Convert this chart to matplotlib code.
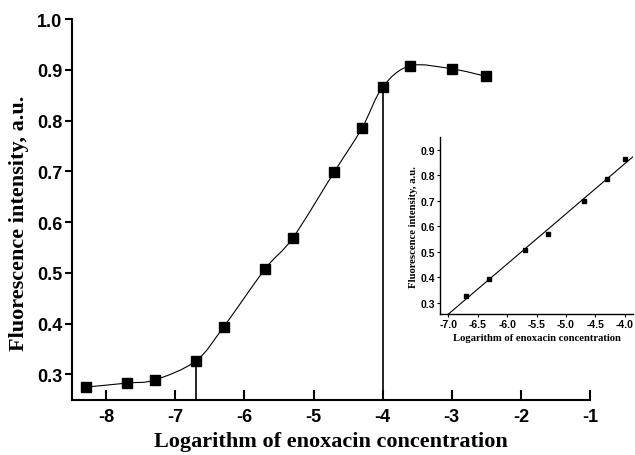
import numpy as np
import matplotlib
matplotlib.use('Agg')
import matplotlib.pyplot as plt
from matplotlib.path import Path
from matplotlib.patches import PathPatch

# data
log_conc = [-8.3, -7.7, -7.3, -6.7, -6.3, -5.7, -5.3, -4.7, -4.3, -4.0, -3.6, -3.0, -2.5]
intensity = [0.275, 0.283, 0.289, 0.327, 0.394, 0.508, 0.569, 0.699, 0.785, 0.866, 0.908, 0.902, 0.887]

# linear range shown in the inset
lin_conc = [-6.7, -6.3, -5.7, -5.3, -4.7, -4.3, -4.0]
lin_int = [0.327, 0.394, 0.508, 0.569, 0.699, 0.785, 0.866]

# limits of the linear range (drop lines)
range_marks = [-6.7, -4.0]
range_vals = [0.327, 0.866]

main_xticks = [-8, -7, -6, -5, -4, -3, -2, -1]
main_yticks = [0.3, 0.4, 0.5, 0.6, 0.7, 0.8, 0.9, 1.0]
inset_xticks = [-7.0, -6.5, -6.0, -5.5, -5.0, -4.5, -4.0]
inset_yticks = [0.3, 0.4, 0.5, 0.6, 0.7, 0.8, 0.9]

sans = 'Liberation Sans'
serif = 'Liberation Serif'


def smooth_path(xs, ys):
    # catmull-rom through the points, drawn as bezier segments
    pts = np.column_stack([xs, ys])
    pad = np.vstack([pts[0], pts, pts[-1]])
    verts = [pts[0]]
    codes = [Path.MOVETO]
    for i in range(1, len(pad) - 2):
        p0, p1, p2, p3 = pad[i - 1], pad[i], pad[i + 1], pad[i + 2]
        verts += [p1 + (p2 - p0) / 6.0, p2 - (p3 - p1) / 6.0, p2]
        codes += [Path.CURVE4] * 3
    return Path(verts, codes)


fig = plt.figure(figsize=(6.35, 4.56), dpi=100)
ax = fig.add_axes([0.113, 0.121, 0.816, 0.835])

ax.add_patch(PathPatch(smooth_path(log_conc, intensity), fc='none', ec='black', lw=0.8))
ax.plot(log_conc, intensity, 's', color='black', ms=6.5, mec='black')
ax.vlines(range_marks, 0.25, range_vals, color='black', lw=1.2)

ax.set_xlim(-8.5, -1)
ax.set_ylim(0.25, 1.0)
ax.set_xticks(main_xticks)
ax.set_yticks(main_yticks)
ax.set_xticklabels([str(t) for t in main_xticks], fontfamily=sans, fontweight='bold', fontsize=13)
ax.set_yticklabels(['%.1f' % t for t in main_yticks], fontfamily=sans, fontweight='bold', fontsize=13)
ax.tick_params(axis='x', direction='in', length=7, width=1.5, pad=6)
ax.tick_params(axis='y', direction='out', length=5, width=1.5, pad=2)
for s in ['top', 'right']:
    ax.spines[s].set_visible(False)
for s in ['left', 'bottom']:
    ax.spines[s].set_linewidth(1.5)
ax.set_xlabel('Logarithm of enoxacin concentration', fontfamily=serif, fontweight='bold', fontsize=16)
ax.set_ylabel('Fluorescence intensity, a.u.', fontfamily=serif, fontweight='bold', fontsize=16)
ax.xaxis.set_label_coords(0.5, -0.082)
ax.yaxis.set_label_coords(-0.082, 0.465)

# inset: linear part with least-squares line
ins = fig.add_axes([0.693, 0.309, 0.304, 0.388])
k, b = np.polyfit(lin_conc, lin_int, 1)
ix = np.array([-7.14, -3.86])
ins.plot(ix, k * ix + b, color='black', lw=0.8)
ins.plot(lin_conc, lin_int, 's', color='black', ms=3)
ins.set_xlim(-7.14, -3.86)
ins.set_ylim(0.255, 0.95)
ins.set_xticks(inset_xticks)
ins.set_yticks(inset_yticks)
ins.set_xticklabels(['%.1f' % t for t in inset_xticks], fontfamily=sans, fontweight='bold', fontsize=7.5)
ins.set_yticklabels(['%.1f' % t for t in inset_yticks], fontfamily=sans, fontweight='bold', fontsize=7.5)
ins.tick_params(direction='out', length=2, width=0.8, pad=1.5)
for s in ['top', 'right']:
    ins.spines[s].set_visible(False)
for s in ['left', 'bottom']:
    ins.spines[s].set_linewidth(1.0)
ins.patch.set_alpha(0)
ins.set_xlabel('Logarithm of enoxacin concentration', fontfamily=serif, fontweight='bold', fontsize=7.7, labelpad=3)
ins.set_ylabel('Fluorescence intensity, a.u.', fontfamily=serif, fontweight='bold', fontsize=7.7, labelpad=2)

fig.savefig('out.png', dpi=100)
